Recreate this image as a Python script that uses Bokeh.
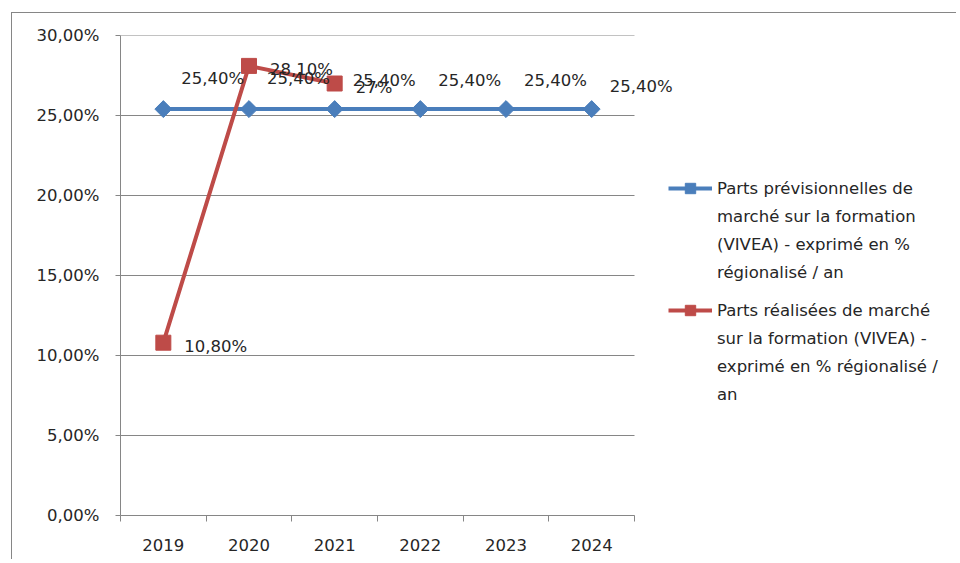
from bokeh.plotting import figure
from bokeh.models import FixedTicker, Legend, LegendItem, ColumnDataSource
from bokeh.core.properties import value
from bokeh.embed import file_html
from bokeh.resources import INLINE
import math

# ---- data ----
years = ["2019", "2020", "2021", "2022", "2023", "2024"]
prev_values = [25.4, 25.4, 25.4, 25.4, 25.4, 25.4]
prev_labels = ["25,40%", "25,40%", "25,40%", "25,40%", "25,40%", "25,40%"]
real_years = ["2019", "2020", "2021"]
real_values = [10.8, 28.1, 27.0]
real_labels = ["10,80%", "28,10%", "27%"]
y_ticks = [0, 5, 10, 15, 20, 25, 30]
y_tick_labels = ["0,00%", "5,00%", "10,00%", "15,00%", "20,00%", "25,00%", "30,00%"]
prev_name_lines = ["Parts prévisionnelles de", "marché sur la formation",
                   "(VIVEA) - exprimé en %", "régionalisé / an"]
real_name_lines = ["Parts réalisées de marché", "sur la formation (VIVEA) -",
                   "exprimé en % régionalisé /", "an"]

# ---- style ----
FONT = "DejaVu Sans"
FS = "16.5px"
TXT = "#262626"
GRID = "#868686"
BLUE = "#4A7EBB"
RED = "#BE4B48"
prev_label_dy = [-31, -31, -29, -29, -29, -23]   # label nudges (screen px)

W, H = 945, 547
BL, BT, BB = 108, 22, 45
AXIS_W = 514                      # pixel width of the category axis
frame_w = W - BL
n = len(years)
x_end = 0.5 + n * frame_w / AXIS_W

x_prev = [years.index(y) + 1 for y in years]
x_real = [years.index(y) + 1 for y in real_years]

src_prev = ColumnDataSource(dict(x=x_prev, y=prev_values, lab=prev_labels, dy=prev_label_dy))
src_real = ColumnDataSource(dict(x=x_real, y=real_values, lab=real_labels))
src_grid = ColumnDataSource(dict(y=y_ticks, x0=[0.5] * len(y_ticks), x1=[n + 0.5] * len(y_ticks)))

p = figure(width=W, height=H, x_range=(0.5, x_end), y_range=(0, 30),
           output_backend="svg", toolbar_location=None,
           min_border_left=BL, min_border_top=BT, min_border_bottom=BB, min_border_right=0,
           margin=(12, 0, 0, 11),
           styles={"border-left": "1px solid #868686", "border-top": "1px solid #868686"})
p.outline_line_color = None
p.background_fill_color = "white"
p.border_fill_color = "white"
p.xgrid.grid_line_color = None
p.ygrid.grid_line_color = None

# horizontal gridlines limited to the category axis extent
p.segment("x0", "y", "x1", "y", source=src_grid, line_color=GRID, line_width=1)

# y axis
p.yaxis.ticker = FixedTicker(ticks=y_ticks)
p.yaxis.major_label_overrides = {t: l for t, l in zip(y_ticks, y_tick_labels)}
p.yaxis.axis_line_color = GRID
p.yaxis.major_tick_line_color = GRID
p.yaxis.major_tick_out = 5
p.yaxis.major_tick_in = 0
p.yaxis.minor_tick_line_color = None
p.yaxis.major_label_text_font = FONT
p.yaxis.major_label_text_font_size = FS
p.yaxis.major_label_text_color = TXT
p.yaxis.major_label_standoff = 16

# x axis
p.xaxis.bounds = (0.5, n + 0.5)
p.xaxis.ticker = FixedTicker(ticks=x_prev, minor_ticks=[i + 0.5 for i in range(n + 1)])
p.xaxis.major_label_overrides = {i + 1: y for i, y in enumerate(years)}
p.xaxis.axis_line_color = GRID
p.xaxis.major_tick_line_color = None
p.xaxis.minor_tick_line_color = GRID
p.xaxis.minor_tick_out = 6
p.xaxis.minor_tick_in = 0
p.xaxis.major_label_text_font = FONT
p.xaxis.major_label_text_font_size = FS
p.xaxis.major_label_text_color = TXT
p.xaxis.major_label_standoff = 17

# series
l1 = p.line("x", "y", source=src_prev, line_color=BLUE, line_width=4)
m1 = p.scatter("x", "y", source=src_prev, marker="square", angle=math.pi / 4, size=12,
               fill_color=BLUE, line_color=BLUE)
l2 = p.line("x", "y", source=src_real, line_color=RED, line_width=4)
m2 = p.scatter("x", "y", source=src_real, marker="square", size=15, fill_color=RED, line_color=RED)

# invisible renderer used as key for the wrapped legend lines
blank = p.line(x=[], y=[], line_alpha=0)

# data labels
p.text("x", "y", text="lab", source=src_prev, x_offset=18, y_offset="dy",
       text_align="left", text_baseline="middle", text_font=value(FONT),
       text_font_size=FS, text_color=TXT)
p.text("x", "y", text="lab", source=src_real, x_offset=21, y_offset=4,
       text_align="left", text_baseline="middle", text_font=value(FONT),
       text_font_size=FS, text_color=TXT)


def make_legend(lines, renderers, loc):
    items = [LegendItem(label=lines[0], renderers=renderers)]
    items += [LegendItem(label=t, renderers=[blank]) for t in lines[1:]]
    return Legend(items=items, location=loc, orientation="vertical",
                  label_text_font=FONT, label_text_font_size=FS, label_text_color=TXT,
                  label_text_baseline="middle",
                  glyph_width=44, glyph_height=26, label_height=20, label_standoff=5,
                  spacing=2, border_line_color=None, background_fill_alpha=0,
                  margin=0, padding=0)


p.add_layout(make_legend(prev_name_lines, [l1, m1], (548, 230)))
p.add_layout(make_legend(real_name_lines, [l2, m2], (548, 108)))

open("out.html", "w").write(file_html(p, INLINE))
